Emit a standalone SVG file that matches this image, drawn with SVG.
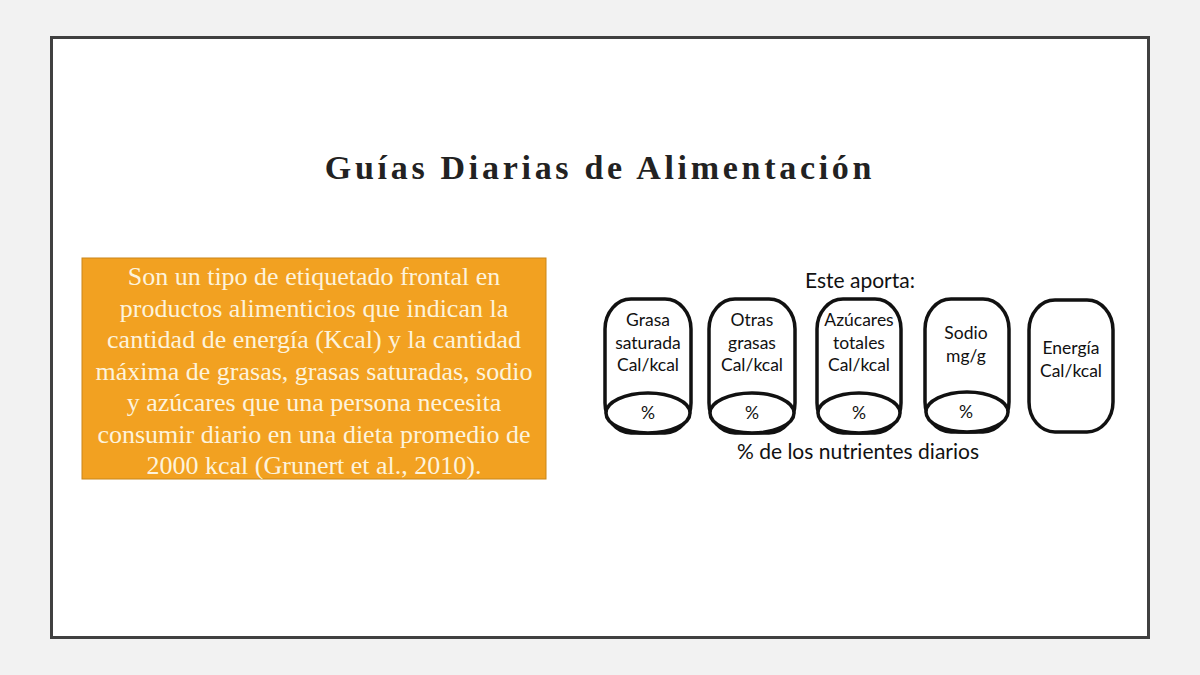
<svg xmlns="http://www.w3.org/2000/svg" width="1200" height="675" viewBox="0 0 1200 675">
<style>
.lbl{font-family:Lato,"Open Sans",sans-serif;font-size:17.5px;fill:#111;text-anchor:middle}
.cap{font-family:Lato,"Open Sans",sans-serif;font-size:21px;fill:#111;text-anchor:middle}
.can{fill:#fff;stroke:#111;stroke-width:3.5}
.body{font-family:"Liberation Serif",serif;font-size:26px;fill:#fdf3dc;text-anchor:middle}
</style>
<rect width="1200" height="675" fill="#f2f2f2"/>
<rect x="51.5" y="37.5" width="1097" height="600" fill="#fff" stroke="#404040" stroke-width="3"/>
<g id="title"><text x="600" y="179" font-family="Liberation Serif,serif" font-size="34" font-weight="bold" letter-spacing="3.7" fill="#222" text-anchor="middle">Guías Diarias de Alimentación</text></g>
<g id="description">
<rect x="82" y="258" width="464" height="221" fill="#f2a121" stroke="#c9861a" stroke-width="1"/>
<text class="body" x="314" y="285">Son un tipo de etiquetado frontal en</text>
<text class="body" x="314" y="316.5">productos alimenticios que indican la</text>
<text class="body" x="314" y="348">cantidad de energía (Kcal) y la cantidad</text>
<text class="body" x="314" y="379.5">máxima de grasas, grasas saturadas, sodio</text>
<text class="body" x="314" y="411">y azúcares que una persona necesita</text>
<text class="body" x="314" y="442.5">consumir diario en una dieta promedio de</text>
<text class="body" x="314" y="474">2000 kcal (Grunert et al., 2010).</text>
</g>
<g id="label-header"><text class="cap" x="860" y="288">Este aporta:</text></g>
<g id="grasa-saturada">
<rect class="can" x="605" y="299" width="86" height="134" rx="26" ry="30"/>
<ellipse class="can" cx="648" cy="413" rx="42" ry="20"/>
<text class="lbl" x="648" y="326">Grasa</text>
<text class="lbl" x="648" y="349">saturada</text>
<text class="lbl" x="648" y="371">Cal/kcal</text>
<text class="lbl" x="648" y="419">%</text>
</g>
<g id="otras-grasas">
<rect class="can" x="709" y="299" width="86" height="134" rx="26" ry="30"/>
<ellipse class="can" cx="752" cy="413" rx="42" ry="20"/>
<text class="lbl" x="752" y="326">Otras</text>
<text class="lbl" x="752" y="349">grasas</text>
<text class="lbl" x="752" y="371">Cal/kcal</text>
<text class="lbl" x="752" y="419">%</text>
</g>
<g id="azucares">
<rect class="can" x="817" y="299" width="84" height="134" rx="26" ry="30"/>
<ellipse class="can" cx="859" cy="413" rx="41" ry="20"/>
<text class="lbl" x="859" y="326">Azúcares</text>
<text class="lbl" x="859" y="349">totales</text>
<text class="lbl" x="859" y="371">Cal/kcal</text>
<text class="lbl" x="859" y="419">%</text>
</g>
<g id="sodio">
<rect class="can" x="925" y="299" width="84" height="133" rx="26" ry="30"/>
<ellipse class="can" cx="967" cy="412" rx="41" ry="20"/>
<text class="lbl" x="966" y="339">Sodio</text>
<text class="lbl" x="966" y="362">mg/g</text>
<text class="lbl" x="966" y="418">%</text>
</g>
<g id="energia">
<rect class="can" x="1029" y="300" width="84" height="132" rx="26" ry="30"/>
<text class="lbl" x="1071" y="354">Energía</text>
<text class="lbl" x="1071" y="377">Cal/kcal</text>
</g>
<g id="footer"><text class="cap" x="858" y="459">% de los nutrientes diarios</text></g>
<g id="connectors"></g>
</svg>
